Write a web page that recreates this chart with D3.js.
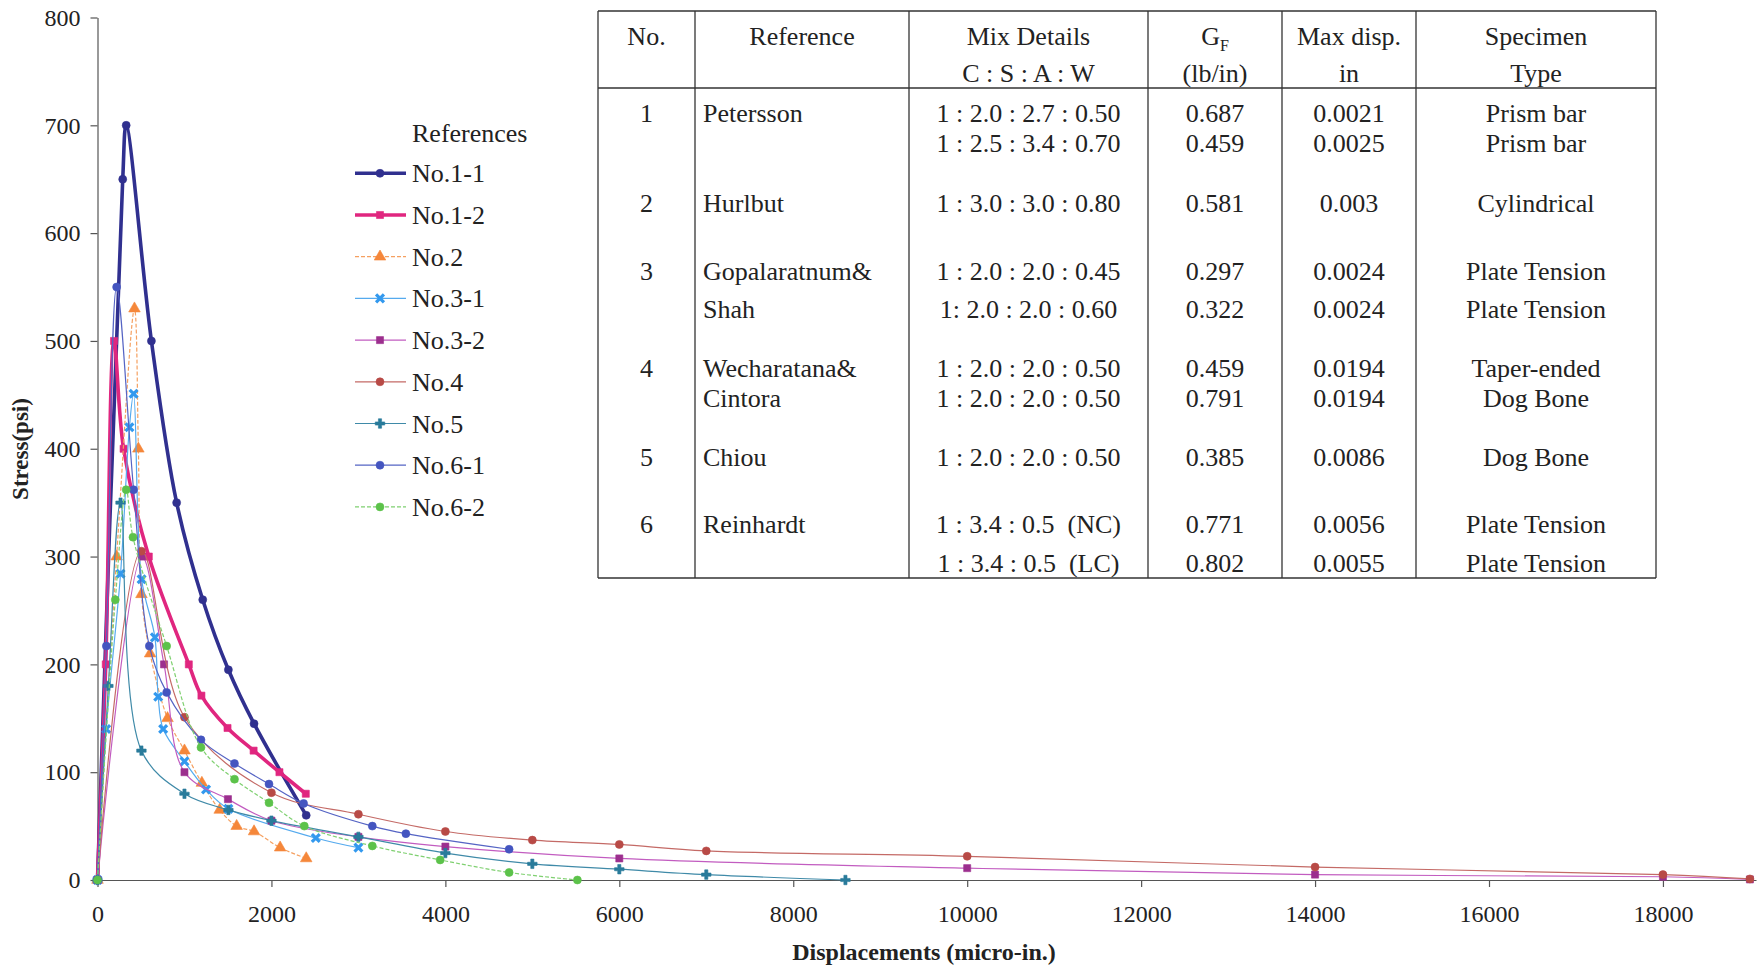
<!DOCTYPE html>
<meta charset="utf-8">
<style>
body { margin: 0; background: #fff; }
svg text { font-family: "Liberation Serif", "Times New Roman", serif; fill: #222; }
.axis path, .axis line { stroke: #555; stroke-width: 1.2px; }
.tbl line { stroke: #333; stroke-width: 1.3px; }
.tbl text { font-size: 26px; white-space: pre; }
</style>
<body>
<svg id="chart" width="1760" height="968"></svg>
<script src="https://d3js.org/d3.v7.min.js"></script>
<script>

// Stress - displacement curves, [displacement (micro-in.), stress (psi)]
var no11 = [[0,0],[290,650],[330,700],[620,500],[910,350],[1210,260],[1505,195],[1800,145],[2400,60]];
var no12 = [[0,0],[95,200],[190,500],[300,400],[590,300],[1050,200],[1195,171],[1495,141],[1795,120],[2092,100],[2395,80]];
var no2  = [[0,0],[220,300],[425,530],[470,400],[505,265],[605,210],[805,150],[1000,120],[1200,90],[1405,65],[1600,50],[1800,45],[2100,30],[2400,20]];
var no31 = [[0,0],[100,140],[265,284],[367,420],[415,451],[507,279],[660,225],[698,170],[755,140],[1000,110],[1248,84],[1505,66],[2510,39],[3000,30]];
var no32 = [[0,0],[510,300],[765,200],[1000,100],[1500,75],[2000,55],[3000,40],[4000,31],[6000,20],[10000,11],[14000,5],[18000,3],[19000,0.5]];
var no4  = [[0,0],[505,305],[1000,151],[2000,81],[3000,61],[4000,45],[5000,37],[6000,33],[7000,27],[10000,22],[14000,12],[18000,5],[19000,1]];
var no5  = [[0,0],[125,180],[265,350],[505,120],[1000,80],[1505,65],[2000,55],[3000,40],[4000,25],[5000,15],[6000,10],[7000,5],[8600,0]];
var no61 = [[0,0],[102,217],[220,550],[415,362],[596,217],[795,174],[1190,130],[1575,108],[1972,89],[2370,71],[3160,50],[3546,43],[4733,28.5]];
var no62 = [[0,0],[205,260],[330,362],[408,318],[795,217],[1190,123],[1575,93.5],[1972,71.6],[2378,50],[3160,31.6],[3940,18.6],[4733,7],[5518,0]];

var seriesNames = ["No.1-1","No.1-2","No.2","No.3-1","No.3-2","No.4","No.5","No.6-1","No.6-2"];
var seriesData  = [no11, no12, no2, no31, no32, no4, no5, no61, no62];

var xTicks = [0,2000,4000,6000,8000,10000,12000,14000,16000,18000];
var yTicks = [0,100,200,300,400,500,600,700,800];

// table of references
var tblHeader1 = ["No.", "Reference", "Mix Details", "G", "Max disp.", "Specimen"];
var tblHeader2 = ["", "", "C : S : A : W", "(lb/in)", "in", "Type"];
var tblNo   = ["1", "", "2", "3", "", "4", "", "5", "6", ""];
var tblRef  = ["Petersson", "", "Hurlbut", "Gopalaratnum&", "Shah", "Wecharatana&", "Cintora", "Chiou", "Reinhardt", ""];
var tblMix  = ["1 : 2.0 : 2.7 : 0.50", "1 : 2.5 : 3.4 : 0.70", "1 : 3.0 : 3.0 : 0.80", "1 : 2.0 : 2.0 : 0.45", "1: 2.0 : 2.0 : 0.60",
               "1 : 2.0 : 2.0 : 0.50", "1 : 2.0 : 2.0 : 0.50", "1 : 2.0 : 2.0 : 0.50", "1 : 3.4 : 0.5  (NC)", "1 : 3.4 : 0.5  (LC)"];
var tblGf   = ["0.687", "0.459", "0.581", "0.297", "0.322", "0.459", "0.791", "0.385", "0.771", "0.802"];
var tblDisp = ["0.0021", "0.0025", "0.003", "0.0024", "0.0024", "0.0194", "0.0194", "0.0086", "0.0056", "0.0055"];
var tblType = ["Prism bar", "Prism bar", "Cylindrical", "Plate Tension", "Plate Tension", "Taper-ended", "Dog Bone", "Dog Bone", "Plate Tension", "Plate Tension"];

// styles for each series
var colors   = ["#30308f", "#e0267f", "#f5873a", "#3399ee", "#9c2f8e", "#b84a46", "#297b9b", "#4455c0", "#5cc24a"];
var lineCols = ["#30308f", "#e0267f", "#f5a060", "#55aaee", "#c25cc0", "#c46a66", "#3f8aa8", "#5564c4", "#7fd070"];
var widths   = [3.6, 3.6, 1.2, 1.2, 1.2, 1.2, 1.2, 1.2, 1.2];
var dashes   = [null, null, "4,2", null, null, null, null, null, "4,2"];
var symbols  = [d3.symbolCircle, d3.symbolSquare, d3.symbolTriangle, d3.symbolX, d3.symbolSquare,
                d3.symbolCircle, d3.symbolCross, d3.symbolCircle, d3.symbolCircle];

var svg = d3.select("#chart");

var x = d3.scaleLinear().domain([0, 19070]).range([97.5, 1756]);
var y = d3.scaleLinear().domain([0, 800]).range([880, 17.5]);

// axes
var xAxis = svg.append("g")
  .attr("class", "axis")
  .attr("transform", "translate(0,880)")
  .call(d3.axisBottom(x).tickValues(xTicks).tickSize(7).tickSizeOuter(0).tickPadding(18).tickFormat(function(d) { return d; }));
xAxis.selectAll("text").style("font-size", "24px");

var yAxis = svg.append("g")
  .attr("class", "axis")
  .attr("transform", "translate(97.5,0)")
  .call(d3.axisLeft(y).tickValues(yTicks).tickSize(7).tickSizeOuter(0).tickPadding(10));
yAxis.selectAll("text").style("font-size", "24px");

svg.append("text")
  .attr("transform", "translate(28,449) rotate(-90)")
  .attr("text-anchor", "middle")
  .style("font-size", "23px")
  .style("font-weight", "bold")
  .text("Stress(psi)");

svg.append("text")
  .attr("x", 924)
  .attr("y", 960)
  .attr("text-anchor", "middle")
  .style("font-size", "24px")
  .style("font-weight", "bold")
  .text("Displacements (micro-in.)");

// curves
var line = d3.line()
  .x(function(d) { return x(d[0]); })
  .y(function(d) { return y(d[1]); })
  .curve(d3.curveCatmullRom.alpha(0.5));

function drawMarker(sel, i) {
  var stroked = symbols[i] === d3.symbolX;
  sel.attr("d", d3.symbol().type(symbols[i]).size(stroked ? 42 : (symbols[i] === d3.symbolTriangle ? 58 : 50)))
    .style("fill", stroked ? "none" : colors[i])
    .style("stroke", colors[i])
    .style("stroke-width", stroked ? 3.2 : 0.6);
}

seriesData.forEach(function(data, i) {
  var g = svg.append("g");
  g.append("path")
    .datum(data)
    .attr("d", line)
    .style("fill", "none")
    .style("stroke", lineCols[i])
    .style("stroke-width", widths[i])
    .style("stroke-dasharray", dashes[i]);
  g.selectAll("path.mk")
    .data(data)
    .enter().append("path")
      .attr("class", "mk")
      .attr("transform", function(d) { return "translate(" + x(d[0]) + "," + y(d[1]) + ")"; })
      .call(drawMarker, i);
});

// legend
var legend = svg.append("g");
legend.append("text")
  .attr("x", 412)
  .attr("y", 142)
  .style("font-size", "26px")
  .text("References");

seriesNames.forEach(function(name, i) {
  var ly = 173.3 + i * 41.7;
  legend.append("line")
    .attr("x1", 355).attr("x2", 406)
    .attr("y1", ly).attr("y2", ly)
    .style("stroke", lineCols[i])
    .style("stroke-width", widths[i])
    .style("stroke-dasharray", dashes[i]);
  legend.append("path")
    .attr("transform", "translate(380," + ly + ")")
    .call(drawMarker, i);
  legend.append("text")
    .attr("x", 412)
    .attr("y", ly + 9)
    .style("font-size", "26px")
    .text(name);
});

// table
var tbl = svg.append("g").attr("class", "tbl");
var colX = [598, 695, 909, 1148, 1282, 1416, 1656];
var rowY = [112.5, 142.7, 202.5, 270.6, 308.8, 367.5, 397.5, 457, 524.3, 562.6];
var tblTop = 11, tblHeadLine = 88, tblBottom = 578;

[tblTop, tblHeadLine, tblBottom].forEach(function(ty) {
  tbl.append("line").attr("x1", colX[0]).attr("x2", colX[6]).attr("y1", ty).attr("y2", ty);
});
colX.forEach(function(cx) {
  tbl.append("line").attr("x1", cx).attr("x2", cx).attr("y1", tblTop).attr("y2", tblBottom);
});

function mid(c) { return (colX[c] + colX[c + 1]) / 2; }

tblHeader1.forEach(function(t, c) {
  var tx = tbl.append("text").attr("x", mid(c)).attr("y", 44.5).attr("text-anchor", "middle").text(t);
  if (t === "G") tx.append("tspan").attr("dy", 6).style("font-size", "16px").text("F");
});
tblHeader2.forEach(function(t, c) {
  tbl.append("text").attr("x", mid(c)).attr("y", 82).attr("text-anchor", "middle").text(t);
});

var cols = [tblNo, tblRef, tblMix, tblGf, tblDisp, tblType];
cols.forEach(function(col, c) {
  col.forEach(function(t, r) {
    tbl.append("text")
      .attr("x", c === 1 ? colX[1] + 8 : mid(c))
      .attr("y", rowY[r] + 9)
      .attr("text-anchor", c === 1 ? "start" : "middle")
      .text(t);
  });
});

</script>
</body>
